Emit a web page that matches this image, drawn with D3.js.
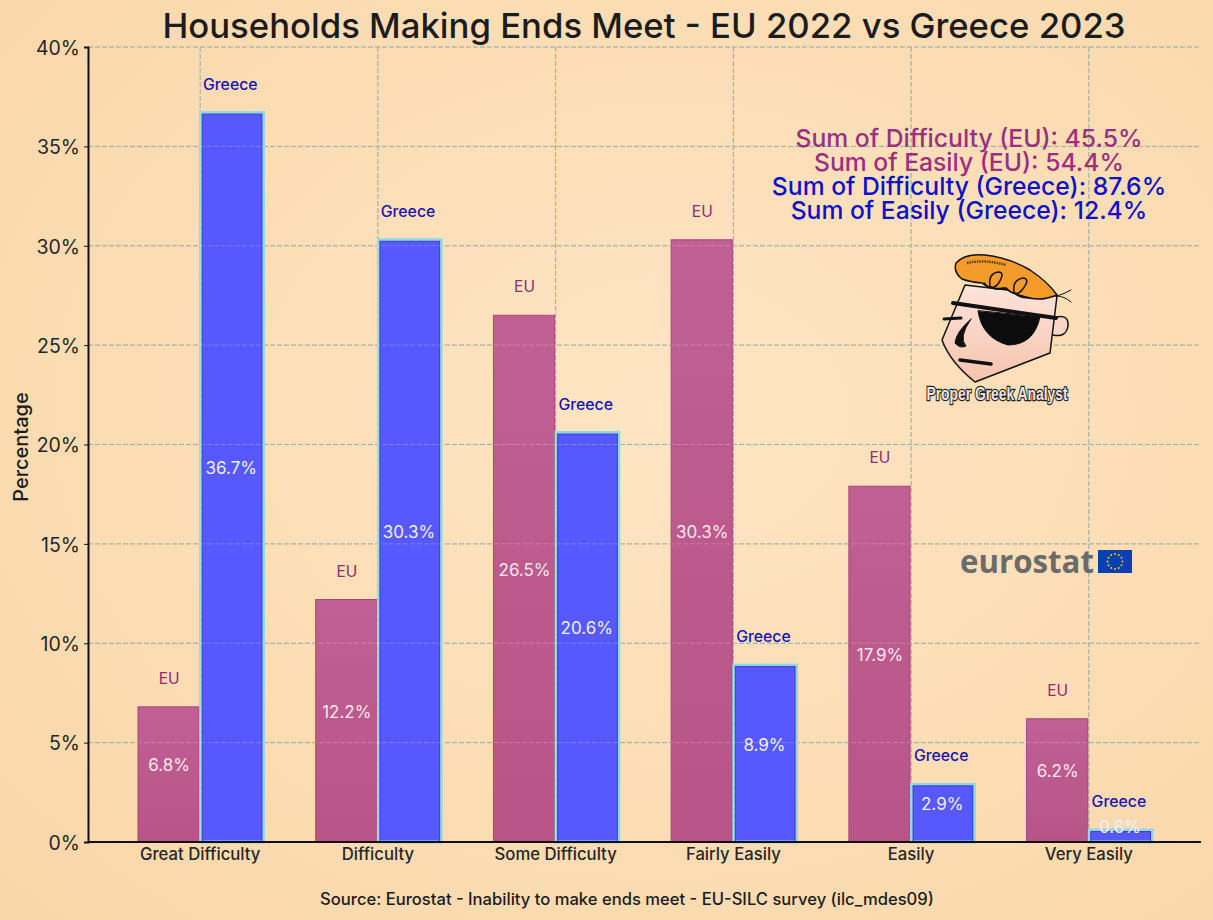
<!DOCTYPE html>
<html>
<head>
<meta charset="utf-8">
<script src="https://cdn.jsdelivr.net/npm/d3@7"></script>
<style>
  html, body { margin: 0; padding: 0; background: #fde0b9; }
  svg { display: block; }
  text { font-family: Inter, "Noto Sans", sans-serif; }
</style>
</head>
<body>
<svg id="chart" width="1213" height="920"></svg>
<script>
// values
const categories = ['Great Difficulty', 'Difficulty', 'Some Difficulty', 'Fairly Easily', 'Easily', 'Very Easily'];
const euValues = [6.8, 12.2, 26.5, 30.3, 17.9, 6.2];
const greeceValues = [36.7, 30.3, 20.6, 8.9, 2.9, 0.6];
const yTicks = [0, 5, 10, 15, 20, 25, 30, 35, 40];
const summaryLines = [
  { text: 'Sum of Difficulty (EU): 45.5%', color: '#9a3080' },
  { text: 'Sum of Easily (EU): 54.4%', color: '#9a3080' },
  { text: 'Sum of Difficulty (Greece): 87.6%', color: '#0c12cc' },
  { text: 'Sum of Easily (Greece): 12.4%', color: '#0c12cc' }
];

const svg = d3.select('#chart');
const defs = svg.append('defs');

// background, a bit darker towards the corners
const bg = defs.append('radialGradient').attr('id', 'bg').attr('cx', '55%').attr('cy', '45%').attr('r', '75%');
bg.append('stop').attr('offset', '0%').attr('stop-color', '#ffe5c4');
bg.append('stop').attr('offset', '100%').attr('stop-color', '#fad7a9');
svg.append('rect').attr('width', 1213).attr('height', 920).attr('fill', 'url(#bg)');

const euGrad = defs.append('linearGradient').attr('id', 'euFill').attr('x1', 0).attr('y1', 0).attr('x2', 0).attr('y2', 1);
euGrad.append('stop').attr('offset', '0%').attr('stop-color', '#c06094');
euGrad.append('stop').attr('offset', '100%').attr('stop-color', '#b85488');

const faceGrad = defs.append('linearGradient').attr('id', 'faceFill').attr('x1', 0).attr('y1', 0).attr('x2', 0).attr('y2', 1);
faceGrad.append('stop').attr('offset', '0%').attr('stop-color', '#fde4da');
faceGrad.append('stop').attr('offset', '100%').attr('stop-color', '#f6c3ad');

const plotLeft = 88, plotRight = 1201, plotTop = 47, plotBottom = 842;

const x = d3.scaleBand().domain(categories).range([138, 1151]).paddingInner(0.3).paddingOuter(0);
const y = d3.scaleLinear().domain([0, 40]).range([plotBottom, plotTop]);
const center = c => x(c) + x.bandwidth() / 2;

// grid, drawn once under the bars and once faintly over them
function drawGrid(color, opacity) {
  const grid = svg.append('g').attr('fill', 'none').attr('stroke', color).attr('stroke-opacity', opacity)
    .attr('stroke-width', 1).attr('stroke-dasharray', '5 2');
  grid.selectAll('line.h').data(yTicks.slice(1)).enter().append('line')
    .attr('class', 'h')
    .attr('x1', plotLeft).attr('x2', plotRight)
    .attr('y1', d => y(d)).attr('y2', d => y(d));
  grid.selectAll('line.v').data(categories).enter().append('line')
    .attr('class', 'v')
    .attr('x1', center).attr('x2', center)
    .attr('y1', plotTop).attr('y2', plotBottom);
}
drawGrid('#7f9a8e', 1);

// bars
const rows = categories.map((c, i) => ({ c, eu: euValues[i], gr: greeceValues[i] }));
const bw = x.bandwidth() / 2;

svg.append('g').selectAll('rect').data(rows).enter().append('rect')
  .attr('x', d => x(d.c))
  .attr('y', d => y(d.eu))
  .attr('width', bw - 1)
  .attr('height', d => y(0) - y(d.eu))
  .attr('fill', 'url(#euFill)')
  .attr('stroke', '#a8447c')
  .attr('stroke-width', 1);

const grBars = svg.append('g').selectAll('g').data(rows).enter().append('g');
grBars.append('rect')
  .attr('x', d => center(d.c) + 0.5)
  .attr('y', d => y(d.gr))
  .attr('width', bw + 0.5)
  .attr('height', d => y(0) - y(d.gr))
  .attr('fill', '#5858ff')
  .attr('stroke', '#8ed8e6')
  .attr('stroke-width', 3);
grBars.append('rect')
  .attr('x', d => center(d.c) + 2)
  .attr('y', d => y(d.gr) + 1.5)
  .attr('width', bw - 2.5)
  .attr('height', d => y(0) - y(d.gr) - 1.5)
  .attr('fill', 'none')
  .attr('stroke', '#3c3cc8')
  .attr('stroke-width', 1);

drawGrid('#ffffff', 0.22);

// name labels above the bars
svg.append('g').selectAll('text').data(rows).enter().append('text')
  .attr('x', d => center(d.c) - bw / 2)
  .attr('y', d => y(d.eu) - 23)
  .attr('text-anchor', 'middle')
  .attr('font-size', 15.5)
  .attr('fill', '#8e2a78')
  .text('EU');
svg.append('g').selectAll('text').data(rows).enter().append('text')
  .attr('x', d => center(d.c) + bw / 2 - 1)
  .attr('y', d => y(d.gr) - 23)
  .attr('text-anchor', 'middle')
  .attr('font-size', 15.8)
  .attr('font-weight', 500)
  .attr('fill', '#1414b4')
  .text('Greece');

// value labels slightly above half height of the bars
svg.append('g').selectAll('text').data(rows).enter().append('text')
  .attr('x', d => center(d.c) - bw / 2)
  .attr('y', d => y(d.eu / 2) - 3)
  .attr('text-anchor', 'middle')
  .attr('font-size', 17)
  .attr('fill', '#fbe6ee')
  .text(d => d.eu.toFixed(1) + '%');
svg.append('g').selectAll('text').data(rows).enter().append('text')
  .attr('x', d => center(d.c) + bw / 2)
  .attr('y', d => y(d.gr / 2) - 3)
  .attr('text-anchor', 'middle')
  .attr('font-size', 17)
  .attr('fill', '#eef0ff')
  .text(d => d.gr.toFixed(1) + '%');

// axes
const yAxis = svg.append('g')
  .attr('transform', `translate(${plotLeft},0)`)
  .call(d3.axisLeft(y).tickValues(yTicks).tickFormat(d => d + '%').tickSize(4).tickPadding(4));
yAxis.selectAll('text').attr('font-size', 19.5).attr('fill', '#262626').attr('y', 1);
yAxis.select('.domain').attr('stroke', '#111').attr('stroke-width', 2);
yAxis.selectAll('.tick line').attr('stroke', '#111');

const xAxis = svg.append('g')
  .attr('transform', `translate(0,${plotBottom})`)
  .call(d3.axisBottom(x).tickSize(0).tickPadding(6));
xAxis.selectAll('text').attr('font-size', 16.7).attr('font-weight', 500).attr('fill', '#262626');
xAxis.select('.domain').remove();
svg.append('line').attr('x1', plotLeft).attr('x2', plotRight).attr('y1', plotBottom).attr('y2', plotBottom)
  .attr('stroke', '#111').attr('stroke-width', 2);

// titles
svg.append('text').attr('x', 644).attr('y', 38).attr('text-anchor', 'middle')
  .attr('font-size', 34.7).attr('font-weight', 500).attr('fill', '#1c1c1c')
  .text('Households Making Ends Meet - EU 2022 vs Greece 2023');
svg.append('text').attr('transform', 'translate(28,447) rotate(-90)').attr('text-anchor', 'middle')
  .attr('font-size', 20).attr('font-weight', 500).attr('fill', '#1c1c1c')
  .text('Percentage');
svg.append('text').attr('x', 627).attr('y', 905).attr('text-anchor', 'middle')
  .attr('font-size', 16.6).attr('font-weight', 500).attr('fill', '#1c1c1c')
  .text('Source: Eurostat - Inability to make ends meet - EU-SILC survey (ilc_mdes09)');

// summary box
svg.append('g').selectAll('text').data(summaryLines).enter().append('text')
  .attr('x', 969)
  .attr('y', (d, i) => 147 + i * 24)
  .attr('text-anchor', 'middle')
  .attr('font-size', 24.7)
  .attr('font-weight', 500)
  .attr('fill', d => d.color)
  .text(d => d.text);

// analyst logo
const logo = svg.append('g').attr('stroke', '#111').attr('stroke-linejoin', 'round').attr('stroke-linecap', 'round');
logo.append('path').attr('d', 'M1056 317 Q1069 314 1068 326 Q1066 338 1053 335').attr('fill', '#fbd6c6').attr('stroke-width', 1.5);
logo.append('path').attr('d', 'M965 285 L942 340 Q950 362 975 382 L1050 353 L1057 296 Z').attr('fill', 'url(#faceFill)').attr('stroke-width', 1.5);
logo.append('path').attr('d', 'M956 263 Q965 253 985 255 Q1010 258 1030 270 Q1048 282 1057 295 Q1040 302 1026 297 Q1012 294 1005 288 Q990 290 982 283 Q970 282 962 279 Q953 272 956 263 Z').attr('fill', '#f59b2c').attr('stroke-width', 1.5);
logo.append('path').attr('d', 'M984 283 Q991 292 998 284 Q1006 272 998 272 Q988 274 990 286 Q994 291 1005 288').attr('fill', 'none').attr('stroke-width', 1.5);
logo.append('path').attr('d', 'M1006 288 Q1016 298 1022 290 Q1031 279 1023 278 Q1012 280 1014 292 Q1018 298 1030 298').attr('fill', 'none').attr('stroke-width', 1.5);
logo.append('path').attr('d', 'M967 263 Q985 259 1006 265').attr('fill', 'none').attr('stroke-width', 2.5).attr('stroke-dasharray', '1.5 1').attr('stroke-linecap', 'butt').attr('stroke', '#5c3a12');
logo.append('path').attr('d', 'M1057 296 Q1064 294 1071 290 M1057 296 Q1064 296 1071 302').attr('fill', 'none').attr('stroke-width', 1);
logo.append('path').attr('d', 'M953 303 L1056 318').attr('fill', 'none').attr('stroke-width', 4);
logo.append('path').attr('d', 'M944 319 L961 318').attr('fill', 'none').attr('stroke-width', 3);
logo.append('path').attr('d', 'M978 311 Q982 338 1008 345 Q1034 345 1040 317 Z').attr('fill', '#0c0c0c');
logo.append('path').attr('d', 'M971 319 Q956 332 955 343 Q960 349 966 346 Q958 338 971 319 Z').attr('fill', '#111').attr('stroke-width', 1);
logo.append('path').attr('d', 'M960 360 L991 364').attr('fill', 'none').attr('stroke-width', 3.5);
svg.append('text').attr('x', 997).attr('y', 400).attr('text-anchor', 'middle')
  .attr('style', 'font-family: "Liberation Sans Narrow", "Liberation Sans", sans-serif; paint-order: stroke')
  .attr('font-size', 18).attr('font-weight', 700)
  .attr('fill', '#f2e6dc').attr('stroke', '#222').attr('stroke-width', 2.4)
  .attr('textLength', 141).attr('lengthAdjust', 'spacingAndGlyphs')
  .text('Proper Greek Analyst');

// eurostat logo
svg.append('text').attr('x', 960).attr('y', 573)
  .attr('style', 'font-family: "Open Sans", "Liberation Sans", sans-serif')
  .attr('font-size', 33).attr('font-weight', 700).attr('fill', '#6b6b6b')
  .attr('textLength', 134).attr('lengthAdjust', 'spacingAndGlyphs')
  .text('eurostat');
svg.append('rect').attr('x', 1098).attr('y', 550).attr('width', 34).attr('height', 23).attr('fill', '#0b3fb0');
svg.append('g').selectAll('circle').data(d3.range(12)).enter().append('circle')
  .attr('cx', d => 1115 + 7.5 * Math.cos(d * Math.PI / 6))
  .attr('cy', d => 561.5 + 7.5 * Math.sin(d * Math.PI / 6))
  .attr('r', 0.9)
  .attr('fill', '#f5d800');
</script>
</body>
</html>
